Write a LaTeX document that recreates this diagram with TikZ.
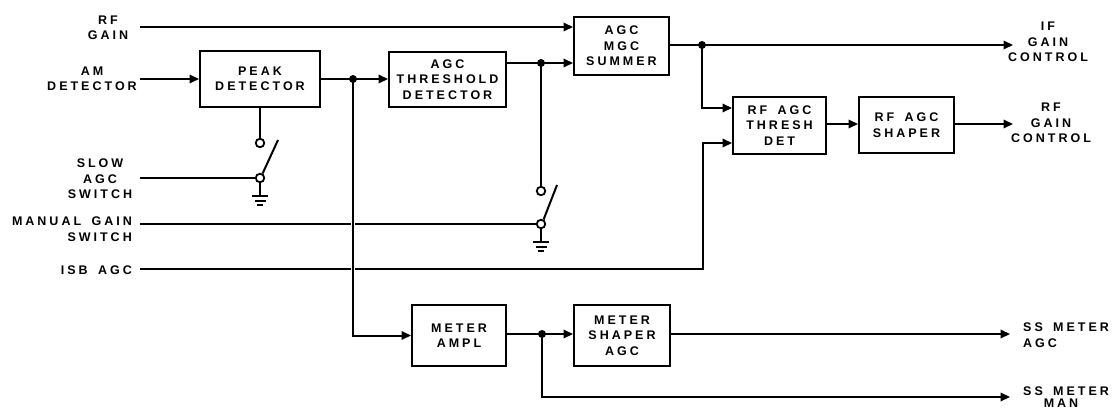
\documentclass[tikz,border=0pt]{standalone}
\usepackage{fontspec}
\setmainfont{Liberation Sans}[LetterSpace=24,WordSpace=1.6]
\usetikzlibrary{arrows.meta,calc}
\newcommand{\dgfont}{\fontsize{12.5}{15.5}\selectfont\bfseries}
\begin{document}
\begin{tikzpicture}[x=1pt,y=-1pt,
  wire/.style={line width=2pt},
  sig/.style={wire,-{Triangle[length=9.5pt,width=8.5pt]}},
  blk/.style={draw,line width=2pt,align=center,inner sep=0pt,font=\dgfont},
  lbl/.style={align=center,inner sep=0pt,font=\dgfont},
  jdot/.style={circle,fill,inner sep=0pt,minimum size=8pt},
  term/.style={circle,draw,fill=white,line width=1.8pt,inner sep=0pt,minimum size=8.5pt},
  gnd/.pic={\draw[line width=2pt] (0,0)--(0,13);
            \draw[line width=1.8pt] (-8,13)--(8,13) (-5.5,17.5)--(5.5,17.5) (-3,22)--(3,22);}
]
\useasboundingbox (0,0) rectangle (1115,409);

% ---- blocks
\node[blk,minimum width=120pt,minimum height=56pt] (peak) at (260,79) {PEAK\\DETECTOR};
\node[blk,minimum width=117pt,minimum height=55pt] (thr) at (447.5,79.5) {AGC\\THRESHOLD\\DETECTOR};
\node[blk,minimum width=95pt,minimum height=58pt] (sum) at (621.5,46) {AGC\\MGC\\SUMMER};
\node[blk,minimum width=93pt,minimum height=57pt] (rfthr) at (779.5,125.5) {RF AGC\\THRESH\\DET};
\node[blk,minimum width=95pt,minimum height=56pt] (shp) at (906.5,125) {RF AGC\\SHAPER};
\node[blk,minimum width=94pt,minimum height=61pt] (mamp) at (459,335.5) {METER\\AMPL};
\node[blk,minimum width=96pt,minimum height=61pt] (mshp) at (622,335.5) {METER\\SHAPER\\AGC};

% ---- labels
\node[lbl] (lrfg) at (108,28) {RF\\GAIN};
\node[lbl] (lam) at (92,79) {AM\\DETECTOR};
\node[lbl] (lslow) at (100,179) {SLOW\\AGC\\SWITCH};
\node[lbl,align=right,anchor=east] (lman) at (132,229) {MANUAL GAIN\\SWITCH};
\node[lbl,anchor=east] (lisb) at (132,270) {ISB AGC};
\node[lbl] (lif) at (1048,42) {IF\\GAIN\\CONTROL};
\node[lbl] (lrfc) at (1051,123) {RF\\GAIN\\CONTROL};
\node[lbl,align=left,anchor=west] (lssa) at (1023,335) {SS METER\\AGC};
\node[lbl,anchor=west] (lssm1) at (1023,391) {SS METER};
\node[lbl,anchor=north] (lssm2) at (1061,399) {MAN};

% ---- coordinates
\coordinate (rfg0) at (140,27);
\coordinate (am0) at (140,79);
\coordinate (slow0) at (140,178);
\coordinate (man0) at (140,224);
\coordinate (isb0) at (140,269);
\coordinate (isbc) at (703,269);
\coordinate (ifend) at (1013,45);
\coordinate (rfcend) at (1013,124);
\coordinate (ssaend) at (1010,334);
\coordinate (ssmend) at (1010,397);
\coordinate (arm1) at (278,140);
\coordinate (arm2) at (557,185);
\coordinate (j1) at (353,79);
\coordinate (j2) at (541,63);
\coordinate (j3) at (702,45);
\coordinate (j4) at (542,334);

% ---- switch terminals
\node[term] (s1a) at (260,143) {};
\node[term] (s1b) at (260,178) {};
\node[term] (s2a) at (541,191) {};
\node[term] (s2b) at (541,224) {};

% ---- signal lines
\draw[sig] (rfg0) -- (sum.west |- rfg0);
\draw[sig] (am0) -- (peak.west |- am0);
\draw[sig] (peak.east |- j1) -- (j1) -- (thr.west |- j1);
\draw[sig] (thr.east |- j2) -- (j2) -- (sum.west |- j2);
\draw[sig] (sum.east |- j3) -- (j3) -- (ifend);
\draw[sig] (j3) -- (j3 |- 0,108) -- (rfthr.west |- 0,108);
\draw[sig] (isb0) -- (isbc) -- (isbc |- 0,143) -- (rfthr.west |- 0,143);
\draw[sig] (rfthr.east |- 0,124) -- (shp.west |- 0,124);
\draw[sig] (shp.east |- rfcend) -- (rfcend);
\draw[wire] (slow0) -- (s1b.west);
\draw[wire] (man0) -- (s2b.west);

% ---- switches and grounds
\draw[wire] (peak.south) -- (s1a.north);
\draw[wire] (s1b.60) -- (arm1);
\pic at (s1b.south) {gnd};
\draw[wire] (j2) -- (s2a.north);
\draw[wire] (s2b.60) -- (arm2);
\pic at (s2b.south) {gnd};

% ---- meter branch
\draw[sig,preaction={draw,white,line width=4.5pt,-,shorten <=6pt}] (j1) -- (j1 |- mamp.west) -- (mamp.west);
\draw[sig] (mamp.east |- j4) -- (j4) -- (mshp.west |- j4);
\draw[sig] (mshp.east |- ssaend) -- (ssaend);
\draw[sig] (j4) -- (j4 |- ssmend) -- (ssmend);

% ---- junction dots
\node[jdot] (d1) at (j1) {};
\node[jdot] (d2) at (j2) {};
\node[jdot] (d3) at (j3) {};
\node[jdot] (d4) at (j4) {};
\end{tikzpicture}
\end{document}
